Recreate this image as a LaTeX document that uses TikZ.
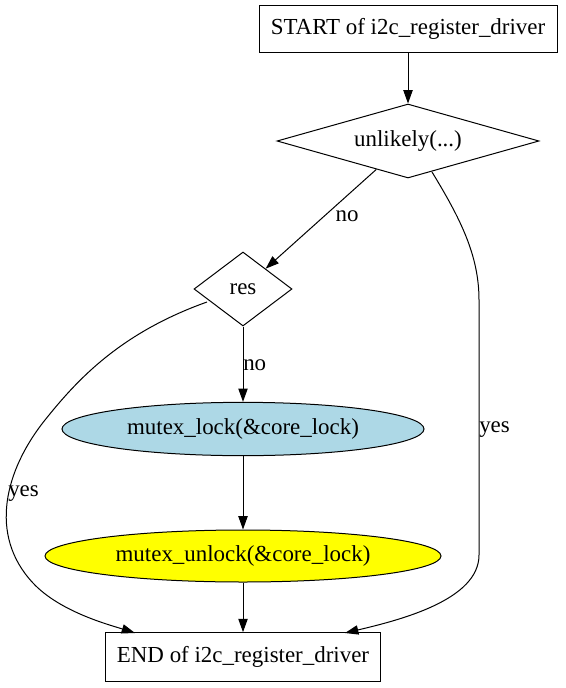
\documentclass[tikz,border=0pt]{standalone}
\usepackage{fontspec}
\setmainfont{Liberation Serif}
\usetikzlibrary{arrows.meta,shapes.geometric}
\definecolor{gvBlue}{HTML}{ADD8E6}
\definecolor{gvYellow}{HTML}{FFFF00}
\tikzset{
  termbox/.style   = {draw, line width=0.75pt, inner sep=0, minimum height=35pt},
  testdia/.style   = {draw, diamond, line width=0.75pt, inner sep=0, minimum height=55.5pt},
  callell/.style   = {draw, ellipse, line width=0.75pt, inner sep=0, minimum height=40pt},
  flow/.style      = {line width=0.75pt, -{Triangle[length=10pt,width=7pt]}},
  edgelbl/.style   = {inner sep=0},
}

\begin{document}
\begin{tikzpicture}[x=0.75pt, y=-0.75pt, font=\fontsize{17.2}{20}\selectfont]

% canvas (pixel units, y grows downward)
\useasboundingbox (0,0) rectangle (565,688);

% --- nodes ---
\node[termbox, minimum width=223.5pt] (start) at (408,29) {START of i2c\_register\_driver};
\node[testdia, aspect=3.54, minimum width=196.5pt] (unlikely) at (408,141) {unlikely(...)};
\node[testdia, aspect=1.32, minimum width=73.5pt] (res) at (243,289) {res};
\node[callell, fill=gvBlue, minimum width=271.5pt] (lock) at (243,429) {mutex\_lock(\&core\_lock)};
\node[callell, fill=gvYellow, minimum width=297pt, minimum height=39pt] (unlock) at (243,556) {mutex\_unlock(\&core\_lock)};
\node[termbox, minimum width=206pt, minimum height=36.5pt] (end) at (243,657) {END of i2c\_register\_driver};

% --- straight edges ---
\draw[flow] (start) -- (unlikely);
\draw[flow] (unlikely) -- (res);
\draw[flow] (res) -- (lock);
\draw[flow] (lock) -- (unlock);
\draw[flow] (unlock) -- (end);

% --- curved yes edges ---
\coordinate (resL) at (207,302);
\coordinate (unlR) at (432,172);
\coordinate (endL) at (135,633);
\coordinate (endR) at (345,633);
\draw[flow] (resL) .. controls (120,333) and (77,380) .. (45,420)
  .. controls (5,470) and (-12,535) .. (33,583)
  .. controls (60,612) and (110,625) .. (endL);
\draw[flow] (unlR) .. controls (460,218) and (479,255) .. (479,300)
  -- (479,555) .. controls (479,600) and (400,620) .. (endR);

% --- edge labels ---
\node[edgelbl] (lblNoA) at (347,216) {no};
\node[edgelbl, anchor=west] (lblNoB) at (243,365) {no};
\node[edgelbl, anchor=west] (lblYesR) at (479,430) {yes};
\node[edgelbl, anchor=west] (lblYesL) at (8,494) {yes};

\end{tikzpicture}
\end{document}
